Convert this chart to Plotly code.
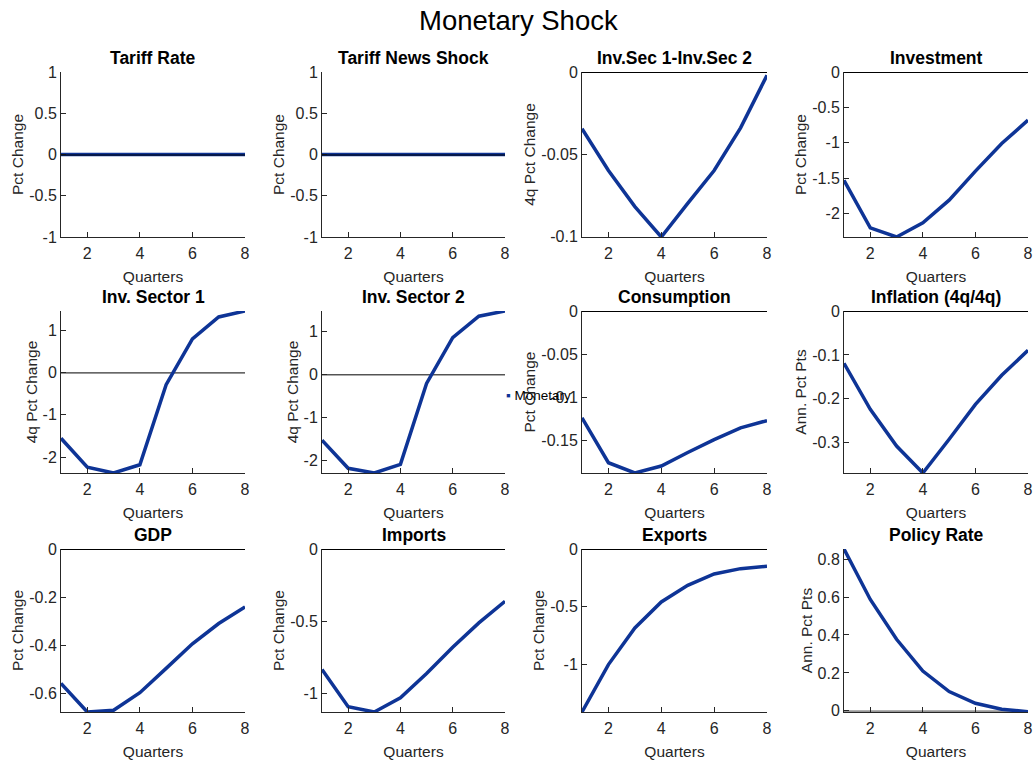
import plotly.graph_objects as go

quarters = [1, 2, 3, 4, 5, 6, 7, 8]

titles = ["Tariff Rate", "Tariff News Shock", "Inv.Sec 1-Inv.Sec 2", "Investment",
          "Inv. Sector 1", "Inv. Sector 2", "Consumption", "Inflation (4q/4q)",
          "GDP", "Imports", "Exports", "Policy Rate"]
ylabels = ["Pct Change", "Pct Change", "4q Pct Change", "Pct Change",
           "4q Pct Change", "4q Pct Change", "Pct Change", "Ann. Pct Pts",
           "Pct Change", "Pct Change", "Pct Change", "Ann. Pct Pts"]

tariff_rate = [0, 0, 0, 0, 0, 0, 0, 0]
tariff_news = [0, 0, 0, 0, 0, 0, 0, 0]
inv_diff = [-0.0345, -0.060, -0.082, -0.1005, -0.080, -0.060, -0.034, -0.002]
investment = [-1.53, -2.20, -2.33, -2.13, -1.81, -1.40, -1.01, -0.68]
inv_sec1 = [-1.555, -2.24, -2.375, -2.18, -0.29, 0.79, 1.31, 1.45]
inv_sec2 = [-1.53, -2.18, -2.29, -2.09, -0.21, 0.85, 1.35, 1.47]
consumption = [-0.1238, -0.1758, -0.1877, -0.1796, -0.164, -0.149, -0.1354, -0.127]
inflation = [-0.1192, -0.224, -0.3075, -0.369, -0.292, -0.2126, -0.1465, -0.0896]
gdp = [-0.557, -0.676, -0.669, -0.596, -0.495, -0.393, -0.309, -0.240]
imports = [-0.834, -1.092, -1.129, -1.03, -0.862, -0.680, -0.512, -0.362]
exports = [-1.41, -1.0, -0.683, -0.458, -0.314, -0.216, -0.170, -0.150]
policy_rate = [0.853, 0.587, 0.377, 0.210, 0.102, 0.040, 0.009, -0.005]

series = [tariff_rate, tariff_news, inv_diff, investment, inv_sec1, inv_sec2,
          consumption, inflation, gdp, imports, exports, policy_rate]

yranges = [[-1, 1], [-1, 1], [-0.1005, 0], [-2.33, 0],
           [-2.375, 1.45], [-2.29, 1.47], [-0.1877, 0], [-0.369, 0],
           [-0.676, 0], [-1.129, 0], [-1.41, 0], [-0.006, 0.853]]
yticks = [[-1, -0.5, 0, 0.5, 1], [-1, -0.5, 0, 0.5, 1], [-0.1, -0.05, 0],
          [-2, -1.5, -1, -0.5, 0], [-2, -1, 0, 1], [-2, -1, 0, 1],
          [-0.15, -0.1, -0.05, 0], [-0.3, -0.2, -0.1, 0],
          [-0.6, -0.4, -0.2, 0], [-1, -0.5, 0], [-1, -0.5, 0],
          [0, 0.2, 0.4, 0.6, 0.8]]
xticks = [2, 4, 6, 8]

W, H = 1036, 765
col_px = [(61, 245), (322, 505), (582, 767), (844, 1028)]
row_px = [(72, 237), (311, 473), (549, 712)]

LINE = "rgb(14,52,150)"
AX = "#262626"
FONT = "Liberation Sans, Arial, sans-serif"

fig = go.Figure()
layout = dict(
    width=W, height=H, autosize=False,
    margin=dict(l=0, r=0, t=0, b=0, pad=0, autoexpand=False),
    paper_bgcolor="white", plot_bgcolor="white", showlegend=False,
    font=dict(family=FONT, size=16, color=AX),
)
annotations = []
shapes = []

for i in range(12):
    r, c = divmod(i, 4)
    n = "" if i == 0 else str(i + 1)
    x0, x1 = col_px[c]
    yt, yb = row_px[r]
    xd = [x0 / W, x1 / W]
    yd = [1 - yb / H, 1 - yt / H]
    layout["xaxis" + n] = dict(
        domain=xd, anchor="y" + n, range=[1, 8], tickvals=xticks, automargin=False,
        showline=True, linecolor=AX, linewidth=1, ticks="inside", ticklen=5,
        tickcolor=AX, showgrid=False, zeroline=False, ticklabelstandoff=2,
        title=dict(text="Quarters", standoff=9, font=dict(size=15.5, color=AX)),
        tickfont=dict(size=16, color=AX),
    )
    layout["yaxis" + n] = dict(
        domain=yd, anchor="x" + n, range=yranges[i], tickvals=yticks[i],
        ticktext=[f"{v:g}" for v in yticks[i]], automargin=False,
        showline=True, linecolor=AX, linewidth=1, ticks="inside", ticklen=5,
        tickcolor=AX, showgrid=False, zeroline=False,
        title=dict(text=ylabels[i], standoff=1, font=dict(size=15.5, color=AX)),
        tickfont=dict(size=16, color=AX),
    )
    fig.add_trace(go.Scatter(
        x=quarters, y=series[i], mode="lines", name="Monetary",
        line=dict(color=LINE, width=3.5), xaxis="x" + n, yaxis="y" + n,
        cliponaxis=False,
    ))
    zc = "rgb(150,150,150)" if i == 11 else "black"
    zw = 2 if i == 11 else 1
    shapes.append(dict(type="line", xref="x" + n, yref="y" + n,
                       x0=1, x1=8, ysizemode="pixel", yanchor=0, y0=-0.5, y1=-0.5,
                       line=dict(color=zc, width=zw), layer="above" if i < 2 else "below"))
    annotations.append(dict(
        text="<b>" + titles[i] + "</b>", xref="paper", yref="paper",
        x=(xd[0] + xd[1]) / 2, y=yd[1], xanchor="center", yanchor="bottom",
        yshift=2, showarrow=False, font=dict(size=17.5, color="black", family=FONT),
    ))

annotations.append(dict(
    text="Monetary Shock", xref="paper", yref="paper", x=0.5, y=1 - 20 / H,
    xanchor="center", yanchor="middle", showarrow=False,
    font=dict(size=27.5, color="black", family=FONT),
))
annotations.append(dict(
    text="<span style='color:rgb(14,52,150)'>▪</span> Monetary", xref="paper", yref="paper",
    x=504 / W, y=1 - 395 / H, xanchor="left", yanchor="middle", showarrow=False,
    font=dict(size=13.5, color="black", family=FONT),
))

layout["annotations"] = annotations
layout["shapes"] = shapes
fig.update_layout(**layout)
fig.write_html("out.html", post_script="document.body.style.margin='0px';document.body.style.overflow='hidden';")
